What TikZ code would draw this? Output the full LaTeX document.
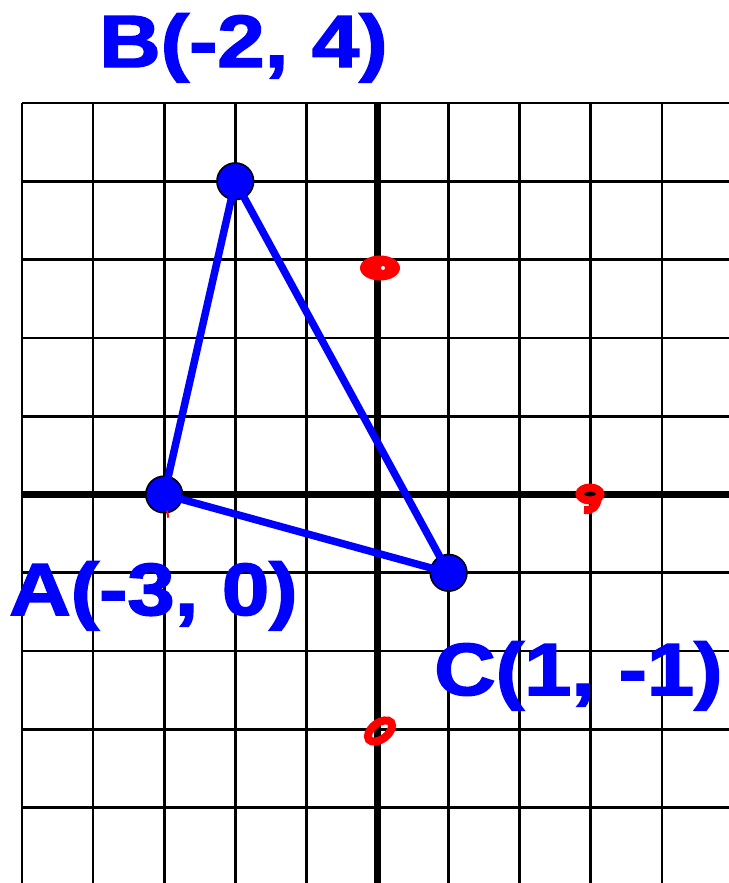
\documentclass[tikz,border=0pt]{standalone}
\usepackage{fontspec}
\setmainfont{Liberation Sans}
\newfontfamily\ptfont{Liberation Sans Bold}[FakeBold=2]
\begin{document}
\begin{tikzpicture}[x=0.75pt,y=-0.75pt,
  gridline/.style={black,line width=2pt},
  axisline/.style={black,line width=5.2pt},
  side/.style={blue,line width=5.6pt,line cap=round},
  vertex/.style={circle,fill=blue,draw=black,line width=1.2pt,minimum size=27.5pt,inner sep=0pt},
  ptlabel/.style={blue,inner sep=0pt,font=\fontsize{55.5pt}{60pt}\ptfont},
  redmark/.style={red,line width=6pt}]
\useasboundingbox (0,0) rectangle (729,883);
\fill[white] (0,0) rectangle (729,883);
% grid
\foreach \i in {0,...,10} {
  \draw[gridline] ({22+71.1*\i},103) -- ({22+71.1*\i},883);
}
\foreach \j in {0,...,10} {
  \draw[gridline] (22,{103+78.3*\j}) -- (729,{103+78.3*\j});
}
% axes
\draw[axisline] (377.5,103) -- (377.5,883);
\draw[axisline] (22,494.5) -- (729,494.5);
% red marks
\fill[red] (380,268) ellipse [x radius=20, y radius=12.5];
\fill[white] (383,268) circle [radius=2];
\draw[redmark] (590,494) ellipse [x radius=10.5, y radius=6.5];
\draw[redmark] (598,497) .. controls (597,507) and (592,511) .. (584,510);
\draw[redmark,rotate around={38:(380,731)}] (380,731) ellipse [x radius=14, y radius=8];
% vertices
\node[vertex] (A) at (164.2,494.5) {};
\node[vertex] (B) at (235.3,181.3) {};
\node[vertex] (C) at (448.6,572.8) {};
\draw[red,line width=1.5pt] (A.south) ++(3,-3) -- ++(1,7);
% sides
\draw[side] (A.center) -- (B.center);
\draw[side] (B.center) -- (C.center);
\draw[side] (C.center) -- (A.center);
% labels
\node[ptlabel,anchor=base west] (LB) at (99,67) {\scalebox{1.15}[1]{B(-2, 4)}};
\node[ptlabel,anchor=base west] (LA) at (9,615) {\scalebox{1.15}[1]{A(-3, 0)}};
\node[ptlabel,anchor=base west] (LC) at (434,695) {\scalebox{1.15}[1]{C(1, -1)}};
\end{tikzpicture}
\end{document}
